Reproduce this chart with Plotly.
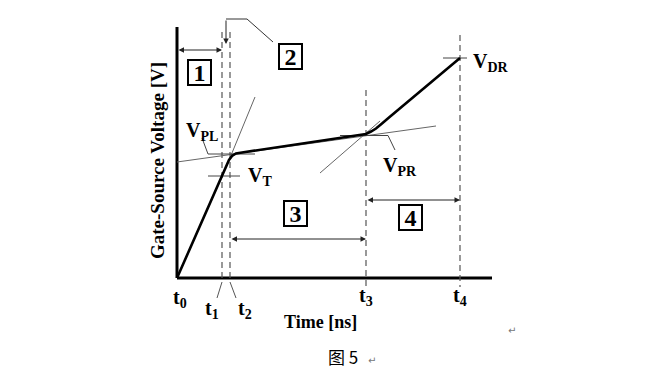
import plotly.graph_objects as go

# ---------------- data (time in arbitrary ns units, voltage in arbitrary V units)
t_labels = ["t<sub>0</sub>", "t<sub>1</sub>", "t<sub>2</sub>", "t<sub>3</sub>", "t<sub>4</sub>"]
t_values = [0.0, 4.5, 5.3, 18.9, 28.3]

v_labels = ["V<sub>T</sub>", "V<sub>PL</sub>", "V<sub>PR</sub>", "V<sub>DR</sub>"]
v_values = [10.2, 12.4, 14.4, 22.0]

curve_t = [0.0, 4.5, 4.9, 5.2, 5.5, 5.9, 6.5, 16.3, 18.9, 19.4, 19.9, 20.5, 21.2, 28.3]
curve_v = [0.0, 10.2, 11.1, 11.8, 12.2, 12.45, 12.55, 14.0, 14.4, 14.65, 14.95, 15.45, 16.05, 22.0]

tan1_t = [4.8, 7.8]      # extension of the initial slope
tan1_v = [10.8, 18.1]
tan2_t = [0.0, 25.9]     # plateau tangent
tan2_v = [11.6, 15.2]
tan3_t = [14.3, 20.3]    # extension of the final slope
tan3_v = [10.5, 15.7]

region_labels = ["1", "2", "3", "4"]
axis_t_max = 31.5
axis_v_max = 25.1

FONT = "Liberation Serif"
BLACK = "#000000"
GRAY = "#555555"

fig = go.Figure()

# axes lines
fig.add_trace(go.Scatter(x=[0, 0, None, 0, axis_t_max], y=[axis_v_max, 0, None, 0, 0],
                         mode="lines", line=dict(color=BLACK, width=3), hoverinfo="skip"))

# dashed time markers
dash_x, dash_y = [], []
tops = [None, 24.6, 24.6, 18.8, 24.3]
bots = [None, -0.4, -0.4, -0.9, -0.9]
for i in range(1, 5):
    dash_x += [t_values[i], t_values[i], None]
    dash_y += [tops[i], bots[i], None]
fig.add_trace(go.Scatter(x=dash_x, y=dash_y, mode="lines",
                         line=dict(color=GRAY, width=1.2, dash="6px,4px"), hoverinfo="skip"))

# leaders for t1, t2 labels
fig.add_trace(go.Scatter(x=[t_values[1], t_values[1] - 0.5, None, t_values[2], t_values[2] + 0.6],
                         y=[-0.4, -2.0, None, -0.4, -2.0], mode="lines",
                         line=dict(color=GRAY, width=1), hoverinfo="skip"))

# thin tangent lines
for tx, ty in [(tan1_t, tan1_v), (tan2_t, tan2_v), (tan3_t, tan3_v)]:
    fig.add_trace(go.Scatter(x=tx, y=ty, mode="lines", line=dict(color="#666666", width=1),
                             hoverinfo="skip"))

# voltage tick marks
vt_x = [3.1, 6.3, None, 3.1, 7.8, None, 16.3, 21.1, None, 26.6, 29.0]
vt_y = [v_values[0], v_values[0], None, v_values[1], v_values[1], None,
        v_values[2] - 0.15, v_values[2] - 0.15, None, v_values[3], v_values[3]]
fig.add_trace(go.Scatter(x=vt_x, y=vt_y, mode="lines", line=dict(color="#444444", width=1),
                         hoverinfo="skip"))
# leaders for VPL / VPR labels
fig.add_trace(go.Scatter(x=[2.5, 3.1, None, 21.1, 21.8], y=[14.0, 12.4, None, 14.25, 12.8],
                         mode="lines", line=dict(color="#444444", width=1), hoverinfo="skip"))

# main gate-source voltage curve
fig.add_trace(go.Scatter(x=curve_t, y=curve_v, mode="lines",
                         line=dict(color=BLACK, width=2.6), hoverinfo="skip"))

# callout for region 2
fig.add_trace(go.Scatter(x=[9.6, 7.0, 4.9], y=[23.6, 25.9, 25.9], mode="lines",
                         line=dict(color="#333333", width=1), hoverinfo="skip"))

ann = []
def arrow(x0, y0, x1, y1, both=True):
    ann.append(dict(x=x1, y=y1, ax=x0, ay=y0, xref="x", yref="y", axref="x", ayref="y",
                    text="", showarrow=True, arrowhead=2, arrowsize=1.1, arrowwidth=1,
                    arrowcolor="#222222", arrowside="end+start" if both else "end"))

arrow(t_values[0], 22.8, t_values[1], 22.8)
arrow(4.9, 25.9, 4.9, 23.4, both=False)
arrow(t_values[2], 3.9, t_values[3], 3.9)
arrow(t_values[3], 7.8, t_values[4], 7.8)

# region boxes
box_pos = [(2.2, 20.6), (11.3, 22.2), (11.8, 6.5), (23.3, 6.1)]
for lab, (bx, by) in zip(region_labels, box_pos):
    ann.append(dict(x=bx, y=by, xref="x", yref="y", text="<b>%s</b>" % lab, showarrow=False,
                    font=dict(family=FONT, size=24, color=BLACK), bordercolor=BLACK,
                    borderwidth=2, borderpad=0, width=21, height=23, bgcolor="white"))

# time labels
t_pos = [(0.3, -2.0), (3.5, -3.1), (6.8, -3.1), (18.9, -1.8), (28.3, -1.8)]
for lab, (px, py) in zip(t_labels, t_pos):
    ann.append(dict(x=px, y=py, xref="x", yref="y", text="<b>%s</b>" % lab, showarrow=False,
                    font=dict(family=FONT, size=20, color=BLACK), xanchor="center", yanchor="middle"))

# voltage labels
v_pos = [(6.9, 10.2), (0.7, 14.7), (20.4, 11.2), (29.4, 21.6)]
for lab, (px, py) in zip(v_labels, v_pos):
    ann.append(dict(x=px, y=py, xref="x", yref="y", text="<b>%s</b>" % lab, showarrow=False,
                    font=dict(family=FONT, size=20, color=BLACK), xanchor="left", yanchor="middle"))

# axis titles
ann.append(dict(x=-2.0, y=11.7, xref="x", yref="y", text="<b>Gate-Source Voltage [V]</b>",
                textangle=-90, showarrow=False, font=dict(family=FONT, size=19, color=BLACK)))
ann.append(dict(x=14.3, y=-4.4, xref="x", yref="y", text="<b>Time [ns]</b>",
                showarrow=False, font=dict(family=FONT, size=18, color=BLACK)))
# caption and paragraph marks
ann.append(dict(x=16.6, y=-7.8, xref="x", yref="y", text="图 5", showarrow=False,
                font=dict(family="Noto Sans CJK SC", size=17, color=BLACK)))
ann.append(dict(x=19.5, y=-8.2, xref="x", yref="y", text="↵", showarrow=False,
                font=dict(family="DejaVu Sans", size=10, color="#777777")))
ann.append(dict(x=33.5, y=-5.2, xref="x", yref="y", text="↵", showarrow=False,
                font=dict(family="DejaVu Sans", size=10, color="#777777")))

# page body has an 8px margin: size the figure so it fits the 650x374 window
fig.update_layout(
    width=634, height=360, margin=dict(l=0, r=0, t=0, b=0),
    plot_bgcolor="white", paper_bgcolor="white", showlegend=False,
    xaxis=dict(range=[-16.9, 46.5], visible=False, fixedrange=True),
    yaxis=dict(range=[-9.0, 27.0], visible=False, fixedrange=True),
    annotations=ann,
)

fig.write_html("out.html")
